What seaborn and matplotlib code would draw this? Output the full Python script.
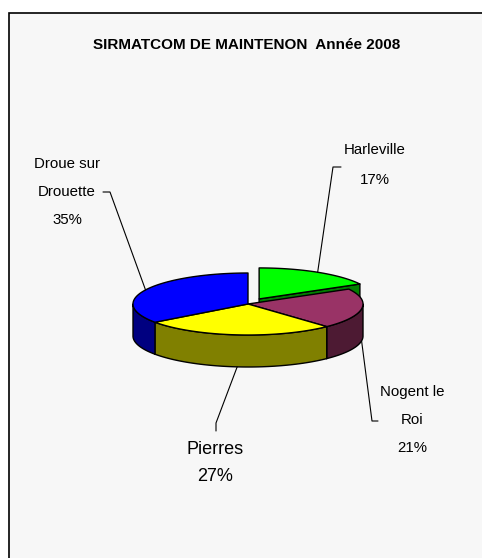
import numpy as np
import matplotlib
matplotlib.use("Agg")
import matplotlib.pyplot as plt
from matplotlib.patches import Polygon, Rectangle
import seaborn as sns

# -------------------------------
# Data
# -------------------------------
title = "SIRMATCOM DE MAINTENON  Année 2008"
communes = ["Harleville", "Nogent le\nRoi", "Pierres", "Droue sur\nDrouette"]
shares = [17, 21, 27, 35]
top_colors = ["#00ff00", "#993366", "#ffff00", "#0000ff"]
side_colors = ["#008000", "#4d1a33", "#808000", "#000080"]
explode = [0.19, 0, 0, 0]

# -------------------------------
# Style
# -------------------------------
sns.set_theme(style="white")
plt.rcParams["font.family"] = ["Liberation Sans", "DejaVu Sans"]
plt.rcParams["text.color"] = "black"

# pie layout (pixels, y pointing down)
cx, cy, rx, ry, depth = 248, 304, 115, 31, 32

# label anchors: text centre, line spacing, font size, leader end, tick end
label_pos = [(375, 165, 29, 10.8, (333, 167), (341, 167)),
             (412, 420, 28, 10.8, (372, 421), (378, 421)),
             (215, 463, 27, 13, (216, 423), (216, 431)),
             (67, 192, 28.5, 10.8, (110, 192), (103, 192))]

fig = plt.figure(figsize=(4.82, 5.58), dpi=100)
ax = fig.add_axes([0, 0, 1, 1])
ax.set_xlim(0, 482)
ax.set_ylim(558, 0)
ax.set_axis_off()

ax.add_patch(Rectangle((9, 13), 600, 600, facecolor="#f7f7f7",
                       edgecolor="black", lw=1.2, zorder=0))
ax.text(247, 45, title, ha="center", va="center", fontsize=11,
        fontweight="bold", color="black")


def rim(t, dx, dy, z=0.0):
    r = np.radians(t)
    return np.column_stack([cx + dx + rx * np.cos(r), cy + dy - ry * np.sin(r) + z])


# slice angle ranges (counter-clockwise), starting at 12 o'clock going clockwise
bounds = []
a_hi = 90.0
for s in shares:
    a_lo = a_hi - s * 3.6
    bounds.append((a_lo, a_hi))
    a_hi = a_lo

offsets = []
for (a0, a1), e in zip(bounds, explode):
    m = np.radians((a0 + a1) / 2)
    offsets.append((e * rx * np.cos(m), -e * ry * np.sin(m)))

kw = dict(edgecolor="black", lw=1.0, joinstyle="round")

# radial faces
for (a0, a1), (dx, dy), col in zip(bounds, offsets, side_colors):
    for a, vis in ((a0, np.cos(np.radians(a0)) > 0), (a1, np.cos(np.radians(a1)) < 0)):
        if not vis:
            continue
        p = rim(np.array([a]), dx, dy)[0]
        c = np.array([cx + dx, cy + dy])
        ax.add_patch(Polygon([c, p, p + [0, depth], c + [0, depth]],
                             facecolor=col, zorder=2, **kw))

# outer walls (front half only)
for (a0, a1), (dx, dy), col in zip(bounds, offsets, side_colors):
    for k in (-360, 0, 360):
        lo, hi = max(a0, -180 + k), min(a1, k)
        if lo < hi:
            t = np.linspace(lo, hi, 60)
            pts = np.vstack([rim(t, dx, dy), rim(t[::-1], dx, dy, depth)])
            ax.add_patch(Polygon(pts, facecolor=col, zorder=3, **kw))

# top faces
for (a0, a1), (dx, dy), col in zip(bounds, offsets, top_colors):
    t = np.linspace(a0, a1, 120)
    pts = np.vstack([[cx + dx, cy + dy], rim(t, dx, dy)])
    ax.add_patch(Polygon(pts, facecolor=col, zorder=4, **kw))

# labels and leader lines
for name, s, (a0, a1), (dx, dy), lp in zip(communes, shares, bounds, offsets, label_pos):
    tx, ty, gap, fs, lend, tick = lp
    lines = name.split("\n") + [f"{s}%"]
    y0 = ty - gap * (len(lines) - 1) / 2
    for i, line in enumerate(lines):
        ax.text(tx, y0 + i * gap, line, ha="center", va="center",
                fontsize=fs, color="black")
    mid = (a0 + a1) / 2
    p = rim(np.array([mid]), dx, dy, depth if np.sin(np.radians(mid)) < 0 else 0)[0]
    ax.plot([p[0], lend[0], tick[0]], [p[1], lend[1], tick[1]],
            color="black", lw=0.8, zorder=5)

fig.savefig("out.png", dpi=100)
